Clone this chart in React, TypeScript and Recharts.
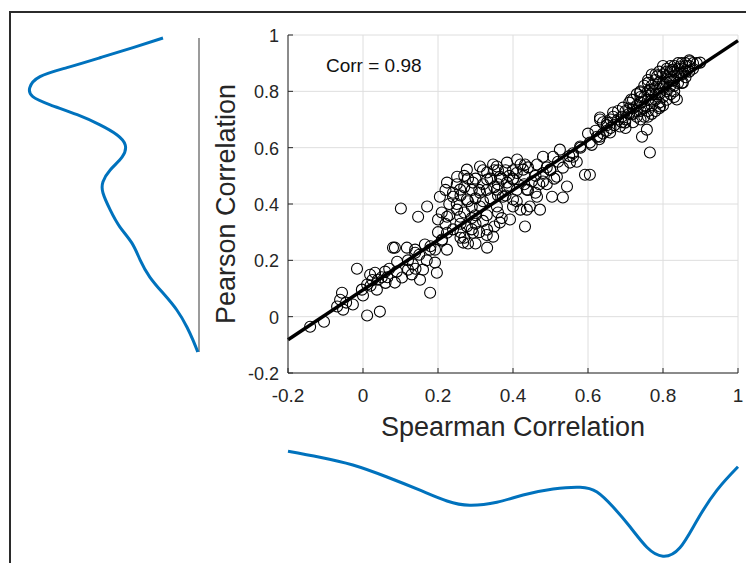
import { ScatterChart, Scatter, XAxis, YAxis, CartesianGrid, ReferenceLine, LineChart, Line, Label } from 'recharts';

// [spearman, pearson] pairs
const lowerPoints: [number, number][] = [
  [-0.141, -0.036], [-0.104, -0.018], [-0.069, 0.036], [-0.061, 0.06], [-0.056, 0.085], [-0.053, 0.025],
  [-0.045, 0.05], [-0.027, 0.043], [-0.016, 0.17], [-0.003, 0.096], [0.0, 0.075], [0.011, 0.004],
  [0.045, 0.018], [0.011, 0.114], [0.019, 0.149], [0.02, 0.11], [0.025, 0.13], [0.032, 0.156],
  [0.04, 0.131], [0.059, 0.16], [0.065, 0.14], [0.037, 0.096], [0.085, 0.121], [0.085, 0.245],
  [0.117, 0.245], [0.091, 0.195], [0.104, 0.139], [0.12, 0.167], [0.133, 0.185], [0.139, 0.227],
  [0.152, 0.131], [0.16, 0.167], [0.165, 0.256], [0.179, 0.085], [0.192, 0.238], [0.192, 0.192],
  [0.197, 0.156], [0.211, 0.274], [0.101, 0.384], [0.147, 0.355], [0.171, 0.391], [0.08, 0.245],
  [0.139, 0.238], [0.179, 0.238], [0.05, 0.14], [0.07, 0.17], [0.09, 0.16], [0.12, 0.2],
  [0.14, 0.17], [0.15, 0.22], [0.17, 0.2], [0.18, 0.25], [0.13, 0.15], [0.06, 0.12],
];

const middlePoints: [number, number][] = [
  [0.205, 0.426], [0.224, 0.476], [0.251, 0.497], [0.277, 0.522], [0.312, 0.533], [0.347, 0.54],
  [0.384, 0.547], [0.411, 0.558], [0.432, 0.54], [0.2, 0.345], [0.224, 0.355], [0.24, 0.426],
  [0.259, 0.451], [0.277, 0.416], [0.293, 0.476], [0.312, 0.44], [0.331, 0.487], [0.357, 0.451],
  [0.384, 0.476], [0.4, 0.416], [0.392, 0.345], [0.432, 0.32], [0.437, 0.38], [0.259, 0.355],
  [0.277, 0.32], [0.293, 0.298], [0.331, 0.309], [0.347, 0.284], [0.331, 0.245], [0.267, 0.263],
  [0.224, 0.238], [0.251, 0.38], [0.312, 0.391], [0.357, 0.391], [0.224, 0.298], [0.365, 0.334],
  [0.22, 0.33], [0.24, 0.31], [0.26, 0.28], [0.27, 0.37], [0.29, 0.35], [0.3, 0.42], [0.31, 0.3],
  [0.33, 0.36], [0.34, 0.42], [0.36, 0.47], [0.37, 0.35], [0.38, 0.43], [0.39, 0.5], [0.41, 0.45],
  [0.42, 0.38], [0.43, 0.5], [0.44, 0.53], [0.25, 0.47], [0.27, 0.5], [0.29, 0.45], [0.23, 0.4],
  [0.21, 0.37], [0.28, 0.26], [0.3, 0.26], [0.35, 0.32], [0.26, 0.33], [0.32, 0.47], [0.35, 0.52],
  [0.4, 0.52], [0.331, 0.512], [0.357, 0.533], [0.427, 0.522], [0.365, 0.497], [0.4, 0.487],
  [0.437, 0.451], [0.464, 0.54], [0.48, 0.568], [0.507, 0.568], [0.499, 0.522], [0.517, 0.497],
  [0.533, 0.529], [0.544, 0.462], [0.533, 0.423], [0.504, 0.426], [0.464, 0.426], [0.445, 0.391],
  [0.472, 0.38], [0.4, 0.391], [0.373, 0.426], [0.45, 0.48], [0.46, 0.44], [0.47, 0.47],
  [0.48, 0.51], [0.49, 0.47], [0.5, 0.52], [0.51, 0.49], [0.52, 0.55],
  [0.2, 0.3], [0.21, 0.27], [0.22, 0.45], [0.23, 0.36], [0.24, 0.44], [0.25, 0.4], [0.26, 0.43],
  [0.27, 0.46], [0.28, 0.41], [0.28, 0.49], [0.29, 0.39], [0.3, 0.49], [0.3, 0.36], [0.31, 0.45],
  [0.32, 0.41], [0.32, 0.52], [0.33, 0.45], [0.34, 0.49], [0.35, 0.46], [0.36, 0.43], [0.36, 0.52],
  [0.37, 0.49], [0.38, 0.52], [0.39, 0.46], [0.4, 0.49], [0.41, 0.51], [0.42, 0.54], [0.43, 0.47],
  [0.44, 0.45], [0.26, 0.3], [0.27, 0.28], [0.29, 0.31], [0.3, 0.33], [0.32, 0.34], [0.33, 0.29],
  [0.36, 0.37], [0.41, 0.41], [0.46, 0.5], [0.48, 0.48], [0.49, 0.53],
];

const upperPoints: [number, number][] = [
  [0.605, 0.504], [0.592, 0.504], [0.56, 0.568], [0.579, 0.604], [0.605, 0.618], [0.632, 0.639],
  [0.651, 0.689], [0.667, 0.71], [0.632, 0.7], [0.685, 0.675], [0.525, 0.593], [0.552, 0.547],
  [0.765, 0.583], [0.744, 0.639], [0.757, 0.664], [0.632, 0.707], [0.667, 0.725], [0.693, 0.742],
  [0.659, 0.654], [0.624, 0.639], [0.699, 0.689], [0.715, 0.771], [0.739, 0.796], [0.765, 0.806],
  [0.792, 0.746], [0.819, 0.842], [0.845, 0.888], [0.872, 0.906], [0.899, 0.902], [0.837, 0.771],
  [0.8, 0.817], [0.784, 0.853], [0.827, 0.877], [0.853, 0.831],
  [0.7, 0.7], [0.71, 0.72], [0.72, 0.74], [0.73, 0.73], [0.74, 0.76], [0.75, 0.75], [0.75, 0.78],
  [0.76, 0.8], [0.77, 0.77], [0.77, 0.82], [0.78, 0.79], [0.78, 0.84], [0.79, 0.81], [0.8, 0.83],
  [0.8, 0.86], [0.81, 0.8], [0.81, 0.85], [0.82, 0.87], [0.82, 0.82], [0.83, 0.84], [0.83, 0.89],
  [0.84, 0.86], [0.84, 0.9], [0.85, 0.88], [0.86, 0.9], [0.86, 0.85], [0.87, 0.89], [0.88, 0.9],
  [0.79, 0.76], [0.76, 0.73], [0.74, 0.7], [0.72, 0.69], [0.69, 0.71], [0.7, 0.67], [0.73, 0.71],
  [0.76, 0.71], [0.78, 0.73], [0.8, 0.78], [0.82, 0.79], [0.85, 0.83], [0.83, 0.8], [0.79, 0.87],
  [0.81, 0.88], [0.77, 0.86], [0.75, 0.82], [0.73, 0.79], [0.71, 0.76], [0.68, 0.73], [0.66, 0.7],
  [0.64, 0.69], [0.62, 0.66], [0.6, 0.65], [0.58, 0.6], [0.56, 0.58], [0.55, 0.57], [0.57, 0.55],
  [0.61, 0.61], [0.63, 0.63],
  [0.72, 0.77], [0.73, 0.75], [0.74, 0.78], [0.75, 0.74], [0.76, 0.77], [0.76, 0.83], [0.77, 0.79],
  [0.77, 0.75], [0.78, 0.81], [0.78, 0.77], [0.79, 0.83], [0.79, 0.79], [0.8, 0.81], [0.8, 0.75],
  [0.81, 0.83], [0.81, 0.87], [0.82, 0.85], [0.82, 0.89], [0.83, 0.87], [0.83, 0.82], [0.84, 0.88],
  [0.84, 0.83], [0.85, 0.86], [0.85, 0.9], [0.86, 0.87], [0.86, 0.89], [0.87, 0.87], [0.87, 0.91],
  [0.88, 0.88], [0.89, 0.9], [0.74, 0.73], [0.75, 0.71], [0.77, 0.72], [0.79, 0.74], [0.81, 0.77],
  [0.83, 0.78], [0.71, 0.74], [0.7, 0.73], [0.69, 0.69], [0.68, 0.7], [0.67, 0.68], [0.66, 0.67],
  [0.65, 0.66], [0.64, 0.65], [0.65, 0.68], [0.72, 0.72], [0.78, 0.86], [0.8, 0.89], [0.76, 0.84],
  [0.74, 0.8],
];

const fitSpearman = [-0.2, 1];
const fitPearson = [-0.082, 0.98];
const axisTicks = [-0.2, 0, 0.2, 0.4, 0.6, 0.8, 1];

// marginal densities
const pearsonGrid = [0.99, 0.956, 0.92, 0.885, 0.853, 0.814, 0.782, 0.753, 0.718, 0.682, 0.647, 0.611, 0.568,
  0.522, 0.48, 0.44, 0.38, 0.32, 0.263, 0.202, 0.142, 0.085, 0.025, -0.036, -0.082, -0.124];
const pearsonDensity = [0.6, 1.1, 1.65, 2.2, 2.65, 2.82, 2.77, 2.48, 2.03, 1.65, 1.37, 1.23, 1.28,
  1.48, 1.6, 1.6, 1.48, 1.32, 1.12, 0.98, 0.82, 0.6, 0.37, 0.2, 0.1, 0.02];
const spearmanGrid = [-0.2, -0.115, -0.027, 0.064, 0.152, 0.224, 0.285, 0.357, 0.427, 0.507, 0.579, 0.624,
  0.667, 0.712, 0.757, 0.8, 0.845, 0.891, 0.944, 1.0];
const spearmanDensity = [0.02, 0.12, 0.25, 0.45, 0.67, 0.85, 0.92, 0.87, 0.75, 0.65, 0.62, 0.7,
  0.95, 1.28, 1.62, 1.77, 1.63, 1.17, 0.67, 0.28];

const FONT = '"Liberation Sans", Arial, Helvetica, sans-serif';
const INK = '#262626';
const BLUE = '#0072BD';
const BASE = '#7a7a7a';

const scatterData = [...lowerPoints, ...middlePoints, ...upperPoints].map(([x, y]) => ({ x, y }));
const pearsonPdf = pearsonGrid.map((v, i) => ({ v, d: pearsonDensity[i] }));
const spearmanPdf = spearmanGrid.map((s, i) => ({ s, d: spearmanDensity[i] }));

const Ring = (props: any) => (
  <circle cx={props.cx} cy={props.cy} r={5.5} fill="none" stroke="#000" strokeWidth={1.1} />
);

const BottomTick = ({ x, y, payload }: any) => (
  <g>
    <line x1={x} x2={x} y1={y} y2={y - 5} stroke={INK} />
    <text x={x} y={y + 29} textAnchor="middle" fontSize={19} fill={INK} fontFamily={FONT}>
      {payload.value}
    </text>
  </g>
);

const LeftTick = ({ x, y, payload }: any) => (
  <g>
    <line x1={x} x2={x + 5} y1={y} y2={y} stroke={INK} />
    <text x={x - 9} y={y + 7} textAnchor="end" fontSize={18} fill={INK} fontFamily={FONT}>
      {payload.value}
    </text>
  </g>
);

const TopTick = ({ x, y }: any) => <line x1={x} x2={x} y1={y} y2={y + 5} stroke={INK} />;
const RightTick = ({ x, y }: any) => <line x1={x} x2={x - 5} y1={y} y2={y} stroke={INK} />;

export default function App() {
  return (
    <div style={{ position: 'absolute', left: 0, top: 0, width: 746, height: 563, background: '#fff', fontFamily: FONT, overflow: 'hidden' }}>
      <div style={{ position: 'absolute', left: 9, top: 11, width: 740, height: 560, borderLeft: '2px solid #2b2b2b', borderTop: '2px solid #2b2b2b' }} />

      {/* left marginal density */}
      <div style={{ position: 'absolute', left: 10, top: 36 }}>
        <LineChart width={195} height={318} data={pearsonPdf} layout="vertical" margin={{ top: 2, right: 6, left: 9, bottom: 2 }}>
          <XAxis type="number" dataKey="d" domain={[0, 3]} reversed hide />
          <YAxis type="number" dataKey="v" domain={[-0.124, 0.99]} reversed hide />
          <ReferenceLine x={0} stroke={BASE} strokeWidth={1.5} />
          <Line type="natural" dataKey="d" stroke={BLUE} strokeWidth={3} dot={false} isAnimationActive={false} />
        </LineChart>
      </div>

      {/* main scatter */}
      <div style={{ position: 'absolute', left: 200, top: 20 }}>
        <ScatterChart width={546} height={430} margin={{ top: 15, right: 8, left: 0, bottom: 15 }}>
          <CartesianGrid stroke="#dedede" />
          <XAxis type="number" dataKey="x" domain={[-0.2, 1]} ticks={axisTicks} allowDataOverflow height={62}
            tickSize={0} tickMargin={0} tickLine={false} axisLine={{ stroke: INK }} tick={BottomTick}>
            <Label content={(p: any) => (
              <text x={p.viewBox.x + p.viewBox.width / 2} y={p.viewBox.y + 63} textAnchor="middle" fontSize={27} fill={INK} fontFamily={FONT}>
                Spearman Correlation
              </text>
            )} />
          </XAxis>
          <YAxis type="number" dataKey="y" domain={[-0.2, 1]} ticks={axisTicks} allowDataOverflow width={88}
            tickSize={0} tickMargin={0} tickLine={false} axisLine={{ stroke: INK }} tick={LeftTick}>
            <Label content={(p: any) => {
              const cx = p.viewBox.x + 35;
              const cy = p.viewBox.y + p.viewBox.height / 2;
              return (
                <text x={cx} y={cy} transform={`rotate(-90 ${cx} ${cy})`} textAnchor="middle" fontSize={27} fill={INK} fontFamily={FONT}>
                  Pearson Correlation
                </text>
              );
            }} />
          </YAxis>
          <XAxis xAxisId="top" orientation="top" type="number" dataKey="x" domain={[-0.2, 1]} ticks={axisTicks} allowDataOverflow height={0}
            tickSize={0} tickMargin={0} tickLine={false} axisLine={{ stroke: INK }} tick={TopTick} />
          <YAxis yAxisId="right" orientation="right" type="number" dataKey="y" domain={[-0.2, 1]} ticks={axisTicks} allowDataOverflow width={0}
            tickSize={0} tickMargin={0} tickLine={false} axisLine={{ stroke: INK }} tick={RightTick} />
          <Scatter data={scatterData} shape={Ring} isAnimationActive={false} />
          <ReferenceLine
            segment={[{ x: fitSpearman[0], y: fitPearson[0] }, { x: fitSpearman[1], y: fitPearson[1] }]}
            stroke="#000" strokeWidth={3.5} />
        </ScatterChart>
      </div>

      <div style={{ position: 'absolute', left: 326, top: 56, fontSize: 19, lineHeight: '19px', color: '#111', whiteSpace: 'nowrap' }}>
        Corr = 0.98
      </div>

      {/* bottom marginal density */}
      <div style={{ position: 'absolute', left: 280, top: 448 }}>
        <LineChart width={466} height={113} data={spearmanPdf} margin={{ top: 2, right: 8, left: 8, bottom: 3 }}>
          <XAxis type="number" dataKey="s" domain={[-0.2, 1]} orientation="top" height={0} tick={false} tickLine={false} axisLine={{ stroke: BASE, strokeWidth: 1.5 }} />
          <YAxis type="number" domain={[0, 1.8]} reversed hide />
          <Line type="natural" dataKey="d" stroke={BLUE} strokeWidth={3} dot={false} isAnimationActive={false} />
        </LineChart>
      </div>
    </div>
  );
}
